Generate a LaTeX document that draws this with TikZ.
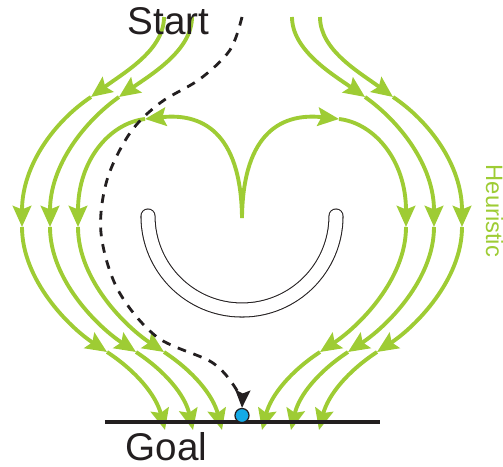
\documentclass[tikz,border=0pt]{standalone}
\usepackage{fontspec}
\setmainfont{Liberation Sans}
\usetikzlibrary{arrows.meta}
\definecolor{leaf}{RGB}{158,204,52}
\definecolor{ink}{RGB}{35,31,32}
\definecolor{goalblue}{RGB}{20,170,230}

\begin{document}
\begin{tikzpicture}[x=0.02cm, y=-0.02cm,
  flow/.style={draw=leaf, line width=2.2pt, -{Stealth[length=12pt, width=10.5pt, inset=2pt]}},
  plan/.style={draw=ink, line width=1.6pt, dash pattern=on 5pt off 4.5pt, -{Stealth[length=10pt, width=8.5pt, inset=1.8pt]}},
  label/.style={font=\fontsize{22}{26}\selectfont, text=ink, anchor=base}]

  \useasboundingbox (-242,0) rectangle (261,466);

  % --- Campo de flujo heuristico (simetrico) ---
  \foreach \s in {1,-1}{
    \begin{scope}[xscale=\s]
      % exterior
      \draw[flow] (-78,17) .. controls (-78,50) and (-117,72) .. (-151,97);
      \draw[flow] (-151,97) .. controls (-187,121) and (-220,165) .. (-220,227);
      \draw[flow] (-220,227) .. controls (-220,280) and (-173,327) .. (-135,352);
      \draw[flow] (-135,352) .. controls (-106,371) and (-86,395) .. (-77,430);
      % medio
      \draw[flow] (-50,17) .. controls (-50,50) and (-90,74) .. (-123,97);
      \draw[flow] (-123,97) .. controls (-157,121) and (-192,165) .. (-192,227);
      \draw[flow] (-192,227) .. controls (-192,280) and (-144,327) .. (-106,352);
      \draw[flow] (-106,352) .. controls (-77,371) and (-57,395) .. (-49,430);
      % interior (lobulo del corazon)
      \draw[flow] (0,218) .. controls (-1,130) and (-42,113) .. (-97,119);
      \draw[flow] (-97,119) .. controls (-132,123) and (-164,160) .. (-164,227);
      \draw[flow] (-164,227) .. controls (-164,280) and (-116,327) .. (-78,352);
      \draw[flow] (-78,352) .. controls (-49,371) and (-29,395) .. (-20,430);
    \end{scope}
  }

  % --- Obstaculo en U ---
  \draw[ink, line width=0.6pt, double=white, double distance=7.4pt, line cap=round]
      (-94,216) arc[start angle=180, end angle=0, radius=94];

  % --- Meta ---
  \draw[ink, line width=1.9pt] (-137,422) -- (138,422);
  \node[draw=ink, fill=goalblue, circle, inner sep=0pt, minimum size=8pt, line width=0.7pt] (hit) at (0,415.5) {};

  % --- Trayectoria planificada ---
  \coordinate (launch) at (0,17);
  \draw[plan] plot[smooth, tension=0.55] coordinates {(launch) (-12,50) (-42,79) (-82,103) (-112,133)
      (-135,180) (-141,233) (-124,290) (-85,337) (-29,363) (-4,392) (hit.north)};

  % --- Etiquetas ---
  \node[label] (start) at (-73.5,35) {Start};
  \node[label] (goal) at (-75.5,460) {Goal};
  \node[font=\fontsize{13.5}{16}\selectfont, text=leaf, rotate=-90, anchor=base] (heur) at (244,211) {Heuristic};

\end{tikzpicture}
\end{document}
